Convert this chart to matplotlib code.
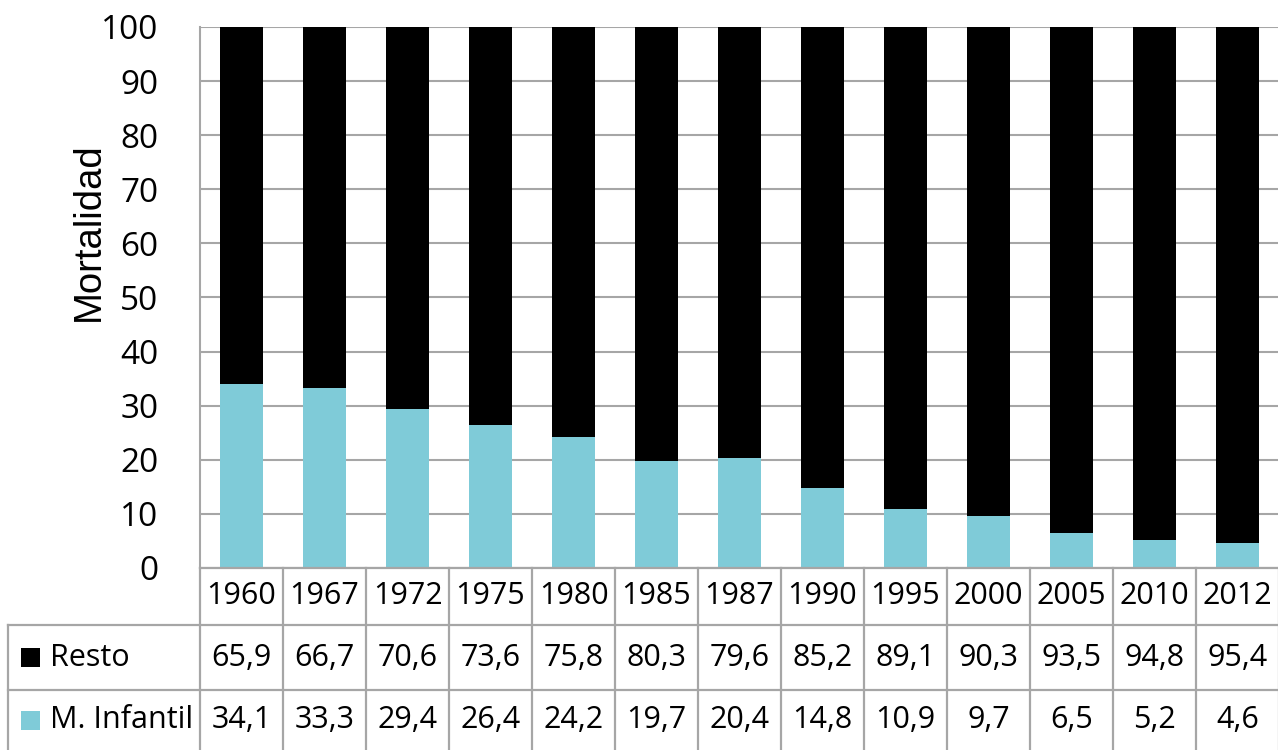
import matplotlib
matplotlib.use("Agg")
import matplotlib.pyplot as plt
from matplotlib.patches import Rectangle

years = ["1960", "1967", "1972", "1975", "1980", "1985", "1987",
         "1990", "1995", "2000", "2005", "2010", "2012"]
resto = [65.9, 66.7, 70.6, 73.6, 75.8, 80.3, 79.6, 85.2, 89.1, 90.3, 93.5, 94.8, 95.4]
infantil = [34.1, 33.3, 29.4, 26.4, 24.2, 19.7, 20.4, 14.8, 10.9, 9.7, 6.5, 5.2, 4.6]
series_names = ["Resto", "M. Infantil"]
yticks = list(range(0, 101, 10))

BLACK = "#000000"
CYAN = "#7FCBD8"
GRID = "#A6A6A6"
FONT = "Open Sans"

W, H = 1278, 750
fig = plt.figure(figsize=(W / 100, H / 100), dpi=100)

# plot area in pixel coordinates
left, right, top, bottom = 200, 1279, 27, 568
ax = fig.add_axes([left / W, 1 - bottom / H, (right - left) / W, (bottom - top) / H])
x = list(range(len(years)))
ax.bar(x, infantil, width=0.52, color=CYAN, zorder=3)
ax.bar(x, resto, width=0.52, bottom=infantil, color=BLACK, zorder=3)
ax.set_xlim(-0.5, len(years) - 0.5)
ax.set_ylim(0, 100)
ax.set_yticks(yticks)
ax.set_yticklabels([str(t) for t in yticks], fontsize=24, family=FONT)
ax.tick_params(axis="y", length=0, pad=30)
ax.set_xticks([])
ax.yaxis.grid(True, color=GRID, linewidth=1.5, zorder=0)
for s in ["top", "right", "bottom"]:
    ax.spines[s].set_visible(False)
ax.spines["left"].set_color(GRID)
ax.spines["left"].set_linewidth(1.5)
fig.text(89 / W, 1 - 232 / H, "Mortalidad", rotation=90, fontsize=27.5,
         family="Liberation Sans", ha="center", va="center")

# data table under the plot, in pixel-based coordinates (y measured from bottom)
tab = fig.add_axes([left / W, 0, (right - left) / W, (H - bottom) / H])
tab.set_xlim(-0.5, len(years) - 0.5)
tab.set_ylim(0, H - bottom)
tab.axis("off")
unit = (right - left) / len(years)
label_left = -0.5 - (left - 8) / unit
y_top = H - bottom
y_hdr = H - 625
y_row = H - 690
line_kw = dict(color=GRID, linewidth=1.6, clip_on=False)
tab.plot([-0.5, len(years) - 0.5], [y_top, y_top], **line_kw)
tab.plot([label_left, len(years) - 0.5], [y_hdr, y_hdr], **line_kw)
tab.plot([label_left, len(years) - 0.5], [y_row, y_row], **line_kw)
tab.plot([label_left, label_left], [0, y_hdr], **line_kw)
for i in range(len(years) + 1):
    tab.plot([i - 0.5, i - 0.5], [0, y_top], **line_kw)

hdr_c = (y_top + y_hdr) / 2
row1_c = (y_hdr + y_row) / 2
row2_c = y_row / 2
txt_kw = dict(fontsize=22, family=FONT, ha="center", va="center", clip_on=False)
for i, yr in enumerate(years):
    tab.text(i, hdr_c, yr, **txt_kw)
    tab.text(i, row1_c, f"{resto[i]:.1f}".replace(".", ","), **txt_kw)
    tab.text(i, row2_c, f"{infantil[i]:.1f}".replace(".", ","), **txt_kw)

sq = 19 / unit
for cy, name, col in [(row1_c, series_names[0], BLACK), (row2_c, series_names[1], CYAN)]:
    tab.add_patch(Rectangle((label_left + 13 / unit, cy - 9.5), sq, 19,
                            facecolor=col, edgecolor="none", clip_on=False))
    tab.text(label_left + 42 / unit, cy, name, fontsize=22, family=FONT,
             ha="left", va="center", clip_on=False)

fig.savefig("out.png", dpi=100)
